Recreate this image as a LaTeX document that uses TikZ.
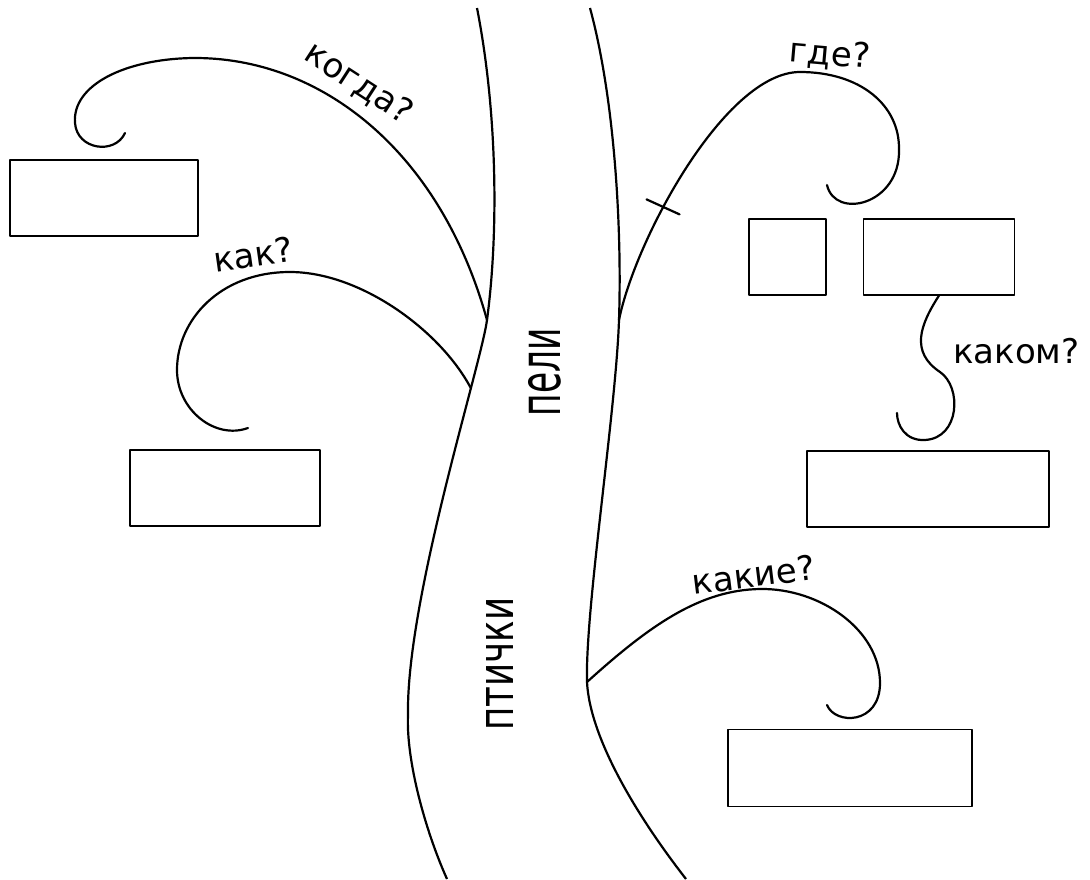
\documentclass[tikz,border=0pt]{standalone}
\usepackage{fontspec}
\setmainfont{DejaVu Sans}
\usepackage{graphicx}
\usetikzlibrary{positioning}

\begin{document}
\begin{tikzpicture}[x=1pt, y=-1pt, line join=round]

        % Стили
        \tikzset{
            trunk/.style={line width=2.2pt},
            branch/.style={line width=2.2pt, line cap=round},
            answer/.style={draw, line width=1.4pt, minimum height=76pt, inner sep=0pt},
            question/.style={font=\fontsize{34}{40}\selectfont, inner sep=0pt},
            trunkword/.style={rotate=90, inner sep=0pt}
        }

        \useasboundingbox (0,0) rectangle (1090,879);

        % --- Стволы (на них точки ветвления) ---
        \draw[trunk] (477,8) .. controls (497,110) and (499,230) .. (487,320) coordinate (jKogda)
            .. controls (481,365) and (406,600) .. (408,715) coordinate[pos=0.26] (jKak)
            .. controls (406,760) and (425,830) .. (447,879);
        \draw[trunk] (590,8) .. controls (615,100) and (622,230) .. (619,320) coordinate (jGde)
            .. controls (616,410) and (585,610) .. (587,682) coordinate (jKakie)
            .. controls (590,740) and (640,820) .. (686,879);

        \node[trunkword] (peli) at (545,372) {\resizebox{88pt}{32pt}{пели}};
        \node[trunkword] (ptichki) at (500,664) {\resizebox{133pt}{27pt}{птички}};

        % --- Прямоугольники для ответов ---
        \node[answer, minimum width=188pt] (ansKogda) at (104,198) {};
        \node[answer, minimum width=190pt] (ansKak) at (225,488) {};
        \node[answer, minimum width=77pt] (ansGdeA) at (787.5,257) {};
        \node[answer, minimum width=151pt, right=36pt of ansGdeA] (ansGdeB) {};
        \node[answer, minimum width=242pt] (ansKakom) at (928,489) {};
        \node[answer, minimum width=244pt, minimum height=77pt] (ansKakie) at (850,768) {};

        % --- Левые ветви ---
        \draw[branch] (jKogda) .. controls (440,150) and (320,57) .. (193,58)
            .. controls (125,59) and (72,85) .. (75,123)
            .. controls (77,150) and (115,155) .. (125,133) coordinate (kogdaEnd);
        \draw[branch] (jKak) .. controls (440,330) and (360,272) .. (290,272)
            .. controls (220,272) and (177,320) .. (177,370)
            .. controls (177,410) and (215,440) .. (248,428) coordinate (kakEnd);

        \node[question, rotate=-33, anchor=base] (qKogda) at (353,92) {когда?};
        \node[question, rotate=8, anchor=base] (qKak) at (255,267) {как?};

        % --- Правые ветви ---
        \draw[branch] (jGde) .. controls (635,240) and (725,72) .. (800,72) coordinate[pos=0.375] (gdeTick)
            .. controls (860,72) and (900,105) .. (899,150)
            .. controls (900,205) and (835,220) .. (827,185) coordinate (gdeEnd);
        \draw[branch] (gdeTick) +(-17,-7) -- +(16,8);
        \draw[branch] (jKakie) .. controls (650,625) and (700,590) .. (760,589)
            .. controls (820,588) and (880,630) .. (880,683)
            .. controls (880,725) and (835,725) .. (827,705) coordinate (kakieEnd);
        \draw[branch] (ansGdeB.south) .. controls (920,325) and (910,352) .. (940,372)
            .. controls (962,387) and (960,438) .. (925,440)
            .. controls (905,441) and (897,425) .. (897,413) coordinate (kakomEnd);

        \node[question, rotate=-5, anchor=base] (qGde) at (829,65) {где?};
        \node[question, rotate=7, anchor=base] (qKakie) at (755,587) {какие?};
        \node[question, anchor=base west] (qKakom) at (953,363) {каком?};

    \end{tikzpicture}
\end{document}
